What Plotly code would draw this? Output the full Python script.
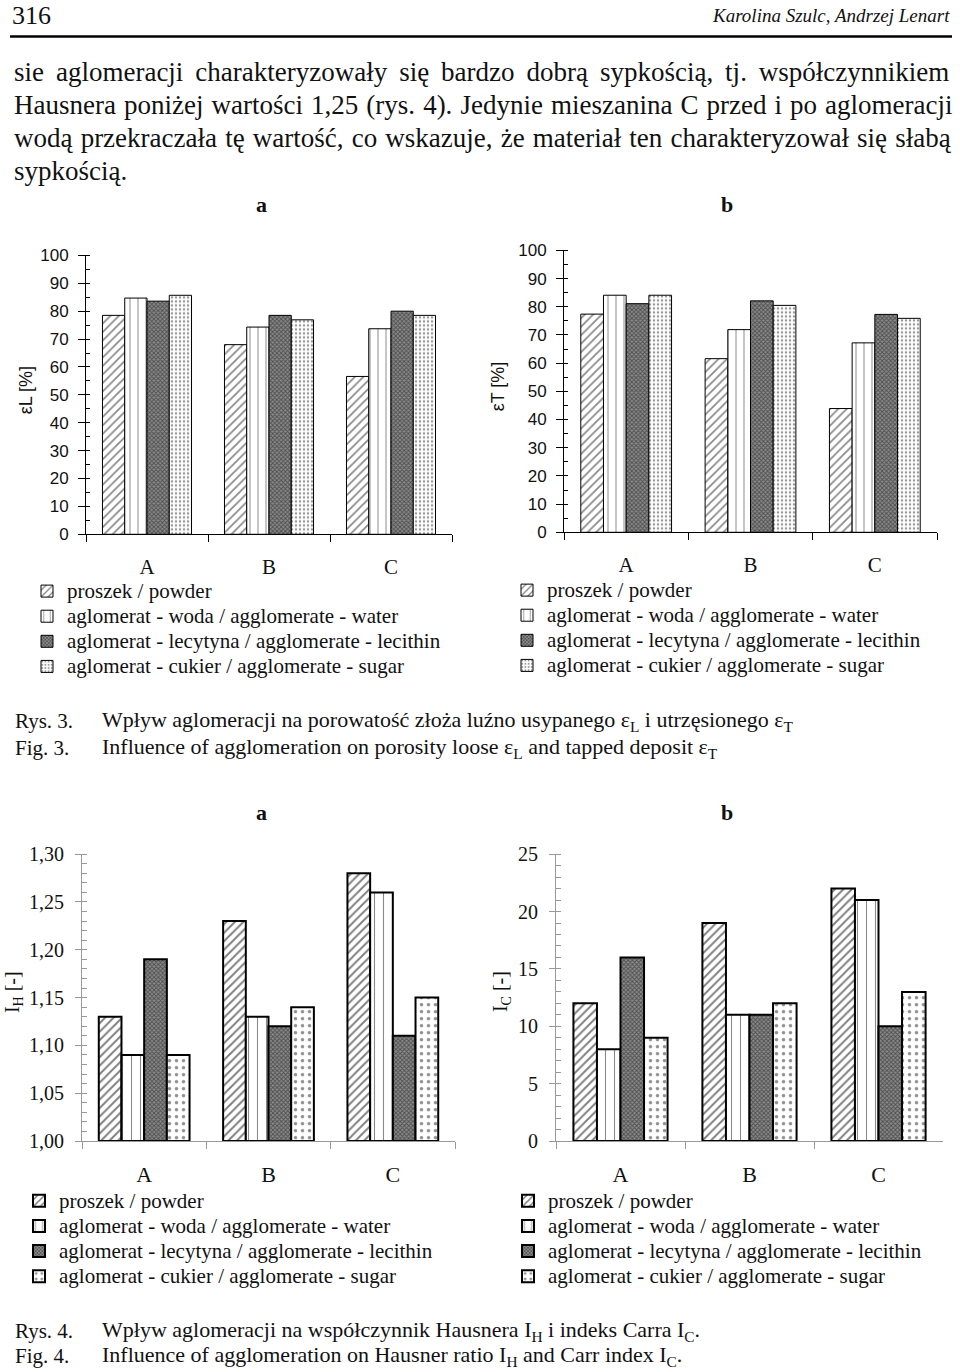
import plotly.graph_objects as go

W, H = 960, 1385

categories = ["A", "B", "C"]
series_names = [
    "proszek / powder",
    "aglomerat - woda / agglomerate - water",
    "aglomerat - lecytyna / agglomerate - lecithin",
    "aglomerat - cukier / agglomerate - sugar",
]

# Fig. 3a  porosity of loose deposit eps_L [%]
epsL_powder = [78.5, 68.0, 56.6]
epsL_water = [84.7, 74.3, 73.7]
epsL_lecithin = [83.6, 78.5, 80.0]
epsL_sugar = [85.7, 76.9, 78.5]

# Fig. 3b  porosity of tapped deposit eps_T [%]
epsT_powder = [77.4, 61.6, 43.9]
epsT_water = [84.1, 71.9, 67.2]
epsT_lecithin = [81.1, 82.1, 77.3]
epsT_sugar = [84.1, 80.5, 75.9]

# Fig. 4a  Hausner ratio I_H
IH_powder = [1.13, 1.23, 1.28]
IH_water = [1.09, 1.13, 1.26]
IH_lecithin = [1.19, 1.12, 1.11]
IH_sugar = [1.09, 1.14, 1.15]

# Fig. 4b  Carr index I_C
IC_powder = [12, 19, 22]
IC_water = [8, 11, 21]
IC_lecithin = [16, 11, 10]
IC_sugar = [9, 12, 13]

epsL_ticks = list(range(0, 101, 10))
epsT_ticks = list(range(0, 101, 10))
IH_ticks = [1.00, 1.05, 1.10, 1.15, 1.20, 1.25, 1.30]
IC_ticks = [0, 5, 10, 15, 20, 25]


def px(x):
    return x / W


def fy(y):
    # page pixel -> figure pixel (compensates the capture offset/scale)
    return (y - 11.5) / 0.9845


def py(y):
    return 1 - fy(y) / H


SERIF = "Liberation Serif"
SANS = "Liberation Sans"

patterns3 = [
    dict(shape="/", fgcolor="#111", bgcolor="white", size=6, solidity=0.28),
    dict(shape="|", fgcolor="#111", bgcolor="white", size=8, solidity=0.12),
    dict(shape="x", fgcolor="#111", bgcolor="#8a8a8a", size=3, solidity=0.5),
    dict(shape=".", fgcolor="#333", bgcolor="white", size=4, solidity=0.3),
]
patterns4 = [
    dict(shape="/", fgcolor="#000", bgcolor="white", size=6, solidity=0.32),
    dict(shape="|", fgcolor="#111", bgcolor="white", size=9, solidity=0.12),
    dict(shape="x", fgcolor="#111", bgcolor="#8a8a8a", size=3, solidity=0.5),
    dict(shape=".", fgcolor="#222", bgcolor="white", size=7, solidity=0.2),
]

fig = go.Figure()

panels = [
    ("x", "y", "legend", [epsL_powder, epsL_water, epsL_lecithin, epsL_sugar], patterns3, 1, None),
    ("x2", "y2", "legend2", [epsT_powder, epsT_water, epsT_lecithin, epsT_sugar], patterns3, 1, None),
    ("x3", "y3", "legend3", [IH_powder, IH_water, IH_lecithin, IH_sugar], patterns4, 2, 1.0),
    ("x4", "y4", "legend4", [IC_powder, IC_water, IC_lecithin, IC_sugar], patterns4, 2, None),
]

for xa, ya, lg, vals, pats, lw, base in panels:
    for name, v, pat in zip(series_names, vals, pats):
        yv = [val - base for val in v] if base is not None else v
        fig.add_trace(go.Bar(
            x=categories, y=yv, base=base,
            name=f'<span style="font-size:21px">{name}</span>',
            xaxis=xa, yaxis=ya, legend=lg,
            marker=dict(color="white", line=dict(color="black", width=lw), pattern=pat),
            hoverinfo="skip",
        ))

black_x = dict(type="category", tickson="boundaries", ticks="outside", ticklen=7,
               tickcolor="black", showline=True, linecolor="black", linewidth=1,
               showgrid=False, zeroline=False, range=[-0.5, 2.5],
               tickfont=dict(family=SERIF, size=21, color="#111"), ticklabelstandoff=14)
black_y = dict(range=[0, 100], tickvals=epsL_ticks, ticks="outside", ticklen=7,
               tickcolor="black", showline=True, linecolor="black", linewidth=1,
               showgrid=False, zeroline=False,
               tickfont=dict(family=SANS, size=17, color="#111"),
               minor=dict(dtick=5, ticks="inside", ticklen=4, tickcolor="black"),
               ticklabelstandoff=6)
grey_x = dict(type="category", tickson="boundaries", ticks="outside", ticklen=7,
              tickcolor="#999", showline=True, linecolor="#999", linewidth=1,
              showgrid=False, zeroline=False, range=[-0.5, 2.5],
              tickfont=dict(family=SERIF, size=22, color="#111"), ticklabelstandoff=14)
grey_y = dict(ticks="outside", ticklen=6, tickcolor="#999", showline=True,
              linecolor="#999", linewidth=1, showgrid=False, zeroline=False,
              tickfont=dict(family=SERIF, size=20, color="#111"), ticklabelstandoff=7)

fig.update_layout(
    xaxis=dict(black_x, domain=[px(86), px(452)], anchor="y"),
    yaxis=dict(black_y, domain=[py(535), py(256)], anchor="x"),
    xaxis2=dict(black_x, domain=[px(564), px(937)], anchor="y2"),
    yaxis2=dict(black_y, domain=[py(533), py(251)], anchor="x2", tickvals=epsT_ticks),
    xaxis3=dict(grey_x, domain=[px(82), px(455)], anchor="y3"),
    yaxis3=dict(grey_y, domain=[py(1142), py(855)], anchor="x3", range=[1.0, 1.3],
                tickvals=IH_ticks, tickformat=".2f",
                minor=dict(dtick=0.01, ticks="inside", ticklen=5, tickcolor="#999")),
    xaxis4=dict(grey_x, domain=[px(556), px(943)], anchor="y4"),
    yaxis4=dict(grey_y, domain=[py(1142), py(855)], anchor="x4", range=[0, 25],
                tickvals=IC_ticks,
                minor=dict(dtick=1, ticks="inside", ticklen=5, tickcolor="#999")),
)

leg_common = dict(xanchor="left", yanchor="top", bgcolor="rgba(0,0,0,0)",
                  font=dict(family=SERIF, size=17, color="#111"),
                  itemwidth=30, tracegroupgap=0, traceorder="normal",
                  itemclick=False, itemdoubleclick=False)


def leg_top(row1):
    return 1 - (fy(row1) - 18) / H


fig.update_layout(
    legend=dict(leg_common, x=px(27), y=leg_top(592)),
    legend2=dict(leg_common, x=px(507), y=leg_top(591)),
    legend3=dict(leg_common, x=px(19), y=leg_top(1202)),
    legend4=dict(leg_common, x=px(508), y=leg_top(1202)),
)

ann = []


def text(x, y, s, size, family=SERIF, anchor="left", **kw):
    ann.append(dict(x=px(x), y=py(y), xref="paper", yref="paper", text=s, showarrow=False,
                    xanchor=anchor, yanchor="middle",
                    font=dict(family=family, size=size, color="#111"), **kw))


# header
text(10, 16, "316", 26)
text(952, 16, "<i>Karolina Szulc, Andrzej Lenart</i>", 19, anchor="right")

# body text (justified lines via word spacing)
body = [
    "sie aglomeracji charakteryzowały się bardzo dobrą sypkością, tj. współczynnikiem",
    "Hausnera poniżej wartości 1,25 (rys. 4). Jedynie mieszanina C przed i po aglomeracji",
    "wodą przekraczała tę wartość, co wskazuje, że materiał ten charakteryzował się słabą",
    "sypkością.",
]
word_gap = [5.2, 1.3, 1.4, 0]
for i, (line, g) in enumerate(zip(body, word_gap)):
    text(12, 73 + 33 * i, f'<span style="word-spacing:{g}px">{line}</span>', 27)

# panel letters
for y in (205, 813):
    text(261, y, "<b>a</b>", 22, anchor="center")
    text(727, y, "<b>b</b>", 22, anchor="center")

# y-axis titles
text(26, 391, "εL [%]", 18, family=SANS, anchor="center", textangle=-90)
text(498, 387, "εT [%]", 18, family=SANS, anchor="center", textangle=-90)
text(13, 993, "I<sub>H</sub> [-]", 20, anchor="center", textangle=-90)
text(501, 993, "I<sub>C</sub> [-]", 20, anchor="center", textangle=-90)

# captions
text(13, 722, "Rys. 3.", 21)
text(100, 722, "Wpływ aglomeracji na porowatość złoża luźno usypanego ε<sub>L</sub> i utrzęsionego ε<sub>T</sub>", 22)
text(13, 749, "Fig. 3.", 21)
text(100, 749, "Influence of agglomeration on porosity loose ε<sub>L</sub> and tapped deposit ε<sub>T</sub>", 22)
text(13, 1332, "Rys. 4.", 21)
text(100, 1332, "Wpływ aglomeracji na współczynnik Hausnera I<sub>H</sub> i indeks Carra I<sub>C</sub>.", 22)
text(13, 1357, "Fig. 4.", 21)
text(100, 1357, "Influence of agglomeration on Hausner ratio I<sub>H</sub> and Carr index I<sub>C</sub>.", 22)

fig.update_layout(
    annotations=ann,
    shapes=[dict(type="line", xref="paper", yref="paper", x0=px(10), x1=px(952),
                 y0=py(37), y1=py(37), line=dict(color="black", width=2.5))],
    width=W, height=H, autosize=False,
    margin=dict(l=0, r=0, t=0, b=0),
    paper_bgcolor="white", plot_bgcolor="white",
    barmode="group", bargap=0.27, bargroupgap=0,
    separators=",.",
    showlegend=True,
)

post = (
    "var d=document.getElementById('{plot_id}');"
    "d.style.position='fixed';d.style.top='0px';d.style.left='0px';"
    "document.body.style.margin='0px';"
    "document.body.style.overflow='hidden';"
    "document.documentElement.style.overflow='hidden';"
)
fig.write_html("out.html", config={"displayModeBar": False}, post_script=post)
